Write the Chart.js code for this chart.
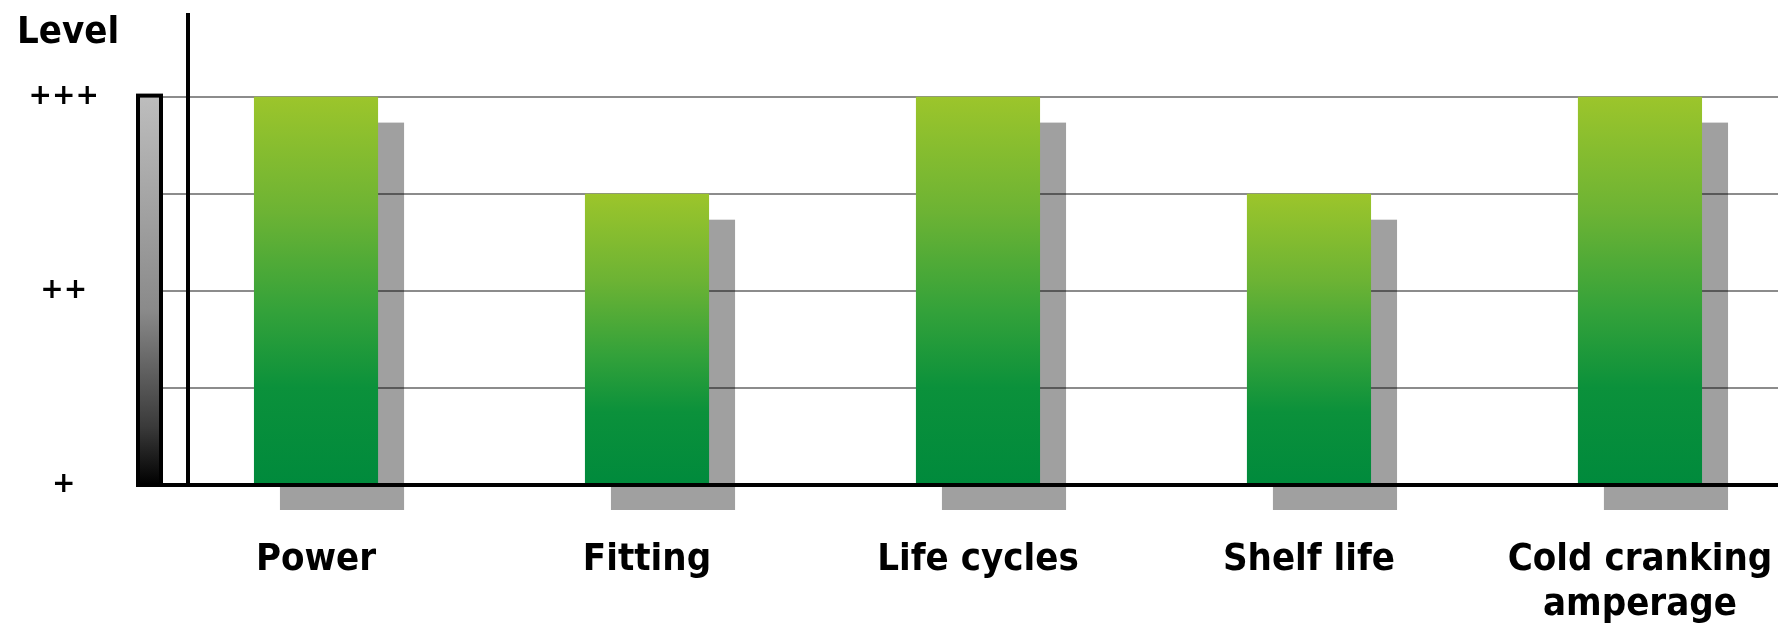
<!DOCTYPE html>
<html>
<head>
<meta charset="utf-8">
<script src="https://cdn.jsdelivr.net/npm/chart.js@4.4.1/dist/chart.umd.min.js"></script>
<style>
    html, body { margin: 0; padding: 0; background: #fff; overflow: hidden; }
    #wrap { width: 1787px; height: 630px; position: relative; }
</style>
</head>
<body>
<div id="wrap"><canvas id="chart1"></canvas></div>
<script>
// chart values
const categories = ['Power', 'Fitting', 'Life cycles', 'Shelf life', ['Cold cranking', 'amperage']];
const levels = [4, 3, 4, 3, 4];
const levelTicks = ['+', '', '++', '', '+++'];
const axisTitle = 'Level';

const condensed = "'DejaVu Sans Condensed', 'DejaVu Sans', sans-serif";

function barGradient(context) {
    const chart = context.chart;
    const y = chart.scales.y;
    if (!chart.chartArea || !y || !context.parsed) return '#2a9e3a';
    const top = y.getPixelForValue(context.parsed.y);
    const bottom = y.getPixelForValue(0);
    const g = chart.ctx.createLinearGradient(0, top, 0, bottom);
    g.addColorStop(0, '#9cc52b');
    g.addColorStop(0.3, '#6cb334');
    g.addColorStop(0.55, '#34a23a');
    g.addColorStop(0.75, '#0b913b');
    g.addColorStop(1, '#008a3c');
    return g;
}

// grey drop shadows, the level gauge and the black axis lines
const decorations = {
    id: 'decorations',
    beforeDraw(chart) {
        const ctx = chart.ctx;
        const area = chart.chartArea;
        const meta = chart.getDatasetMeta(0);
        ctx.save();
        ctx.fillStyle = '#a0a0a0';
        meta.data.forEach(bar => {
            ctx.fillRect(bar.x - bar.width / 2 + 26, bar.y + 26, bar.width, bar.base - bar.y);
        });

        const g = ctx.createLinearGradient(0, area.top, 0, area.bottom);
        g.addColorStop(0, '#bdbdbd');
        g.addColorStop(0.55, '#8a8a8a');
        g.addColorStop(0.85, '#3a3a3a');
        g.addColorStop(1, '#000');
        ctx.fillStyle = g;
        ctx.fillRect(area.left - 24, area.top - 1, 23, area.bottom - area.top + 1);
        ctx.lineWidth = 4;
        ctx.strokeStyle = '#000';
        ctx.strokeRect(area.left - 24, area.top - 1, 23, area.bottom - area.top + 1);
        ctx.restore();
    },
    afterDraw(chart) {
        const ctx = chart.ctx;
        const area = chart.chartArea;
        ctx.save();
        ctx.strokeStyle = '#000';
        ctx.lineWidth = 4;
        ctx.beginPath();
        ctx.moveTo(area.left + 26, 13);
        ctx.lineTo(area.left + 26, area.bottom);
        ctx.moveTo(area.left - 26, area.bottom);
        ctx.lineTo(area.right, area.bottom);
        ctx.stroke();
        ctx.restore();
    }
};

const ctx = document.getElementById('chart1');

new Chart(ctx, {
    type: 'bar',
    data: {
        datasets: [{
            data: levels.map((v, i) => ({ x: i, y: v })),
            backgroundColor: barGradient,
            borderWidth: 0,
            barPercentage: 0.375,
            categoryPercentage: 1
        }]
    },
    plugins: [decorations],
    options: {
        responsive: true,
        maintainAspectRatio: false,
        animation: false,
        layout: { padding: { left: 17, right: 9, top: 0, bottom: 0 } },
        plugins: {
            legend: { display: false },
            tooltip: { enabled: false },
            title: {
                display: true,
                text: axisTitle,
                align: 'start',
                color: '#000',
                font: { family: condensed, size: 38, weight: 'bold', lineHeight: 1.2 },
                padding: { top: 10, bottom: 41 }
            }
        },
        scales: {
            x: {
                type: 'linear',
                offset: false,
                min: -0.4653,
                max: 4.417,
                grid: { display: false, drawTicks: false, offset: false },
                border: { display: false },
                ticks: {
                    stepSize: 1,
                    includeBounds: false,
                    autoSkip: false,
                    maxRotation: 0,
                    padding: 52,
                    color: '#000',
                    font: { family: condensed, size: 38, weight: 'bold', lineHeight: 1.2 },
                    callback: v => categories[v]
                },
                afterFit(scale) {
                    scale.height = 145;
                    scale.paddingLeft = 0;
                    scale.paddingRight = 0;
                }
            },
            y: {
                min: 0,
                max: 4,
                grid: { color: 'rgba(0,0,0,0.45)', lineWidth: 2, drawTicks: false },
                border: { display: false },
                ticks: {
                    stepSize: 1,
                    padding: 63,
                    crossAlign: 'center',
                    color: '#000',
                    font: { family: "'DejaVu Sans', sans-serif", size: 28, weight: 'bold' },
                    callback: v => levelTicks[v]
                },
                afterFit(scale) { scale.width = 145; }
            }
        }
    }
});
</script>
</body>
</html>
